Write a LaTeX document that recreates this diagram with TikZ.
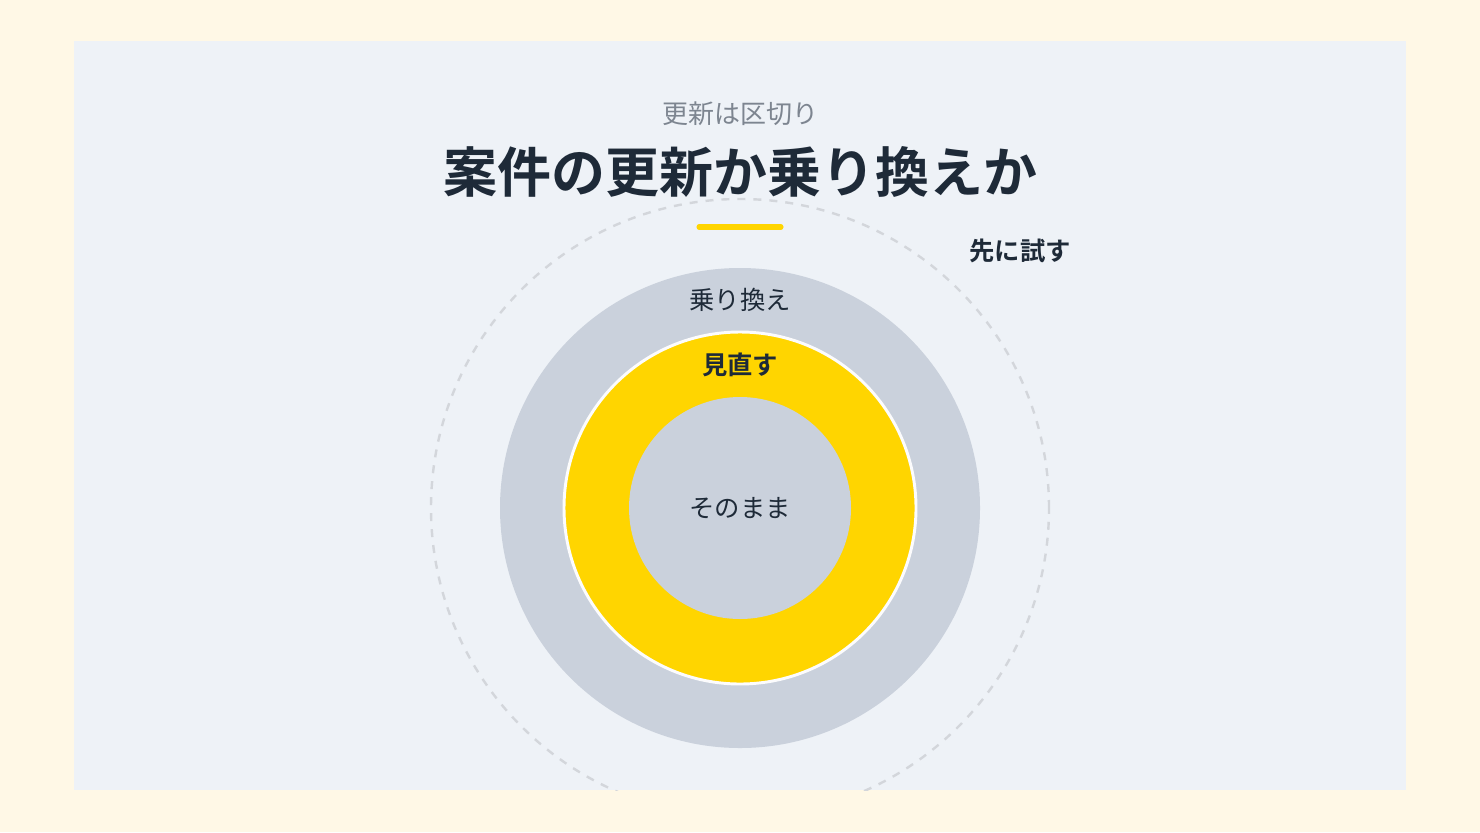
\documentclass[tikz,border=0pt]{standalone}
\usepackage{fontspec}
\newfontfamily\cjk{Noto Sans CJK JP}
\newfontfamily\cjkb{Noto Sans CJK JP Bold}
\definecolor{cream}{HTML}{FFF8E6}
\definecolor{panel}{HTML}{EEF2F7}
\definecolor{ringgray}{HTML}{CAD1DC}
\definecolor{ringyellow}{HTML}{FFD500}
\definecolor{ink}{HTML}{1E2A38}
\definecolor{subgray}{HTML}{7D8590}
\definecolor{dashgray}{HTML}{D3D6DB}
\tikzset{
  lbl/.style={inner sep=0pt, text=ink, font=\cjk\fontsize{19}{21}\selectfont},
  lblb/.style={inner sep=0pt, text=ink, font=\cjkb\fontsize{19}{21}\selectfont},
}
\begin{document}
\begin{tikzpicture}[x=0.75pt,y=-0.75pt]
\useasboundingbox (0,0) rectangle (1480,832);
\fill[cream] (0,0) rectangle (1480,832);
\fill[panel] (74,41) rectangle (1406,790);
\coordinate (c) at (740,508);
\begin{scope}
\clip (74,41) rectangle (1406,790);
\draw[dashgray, line width=1.8pt, dash pattern=on 6pt off 6pt] (c) circle[radius=231.75pt];
\end{scope}
\fill[ringgray] (c) circle[radius=180pt];
\fill[ringyellow, draw=white!94!ringgray, line width=2.2pt] (c) circle[radius=132pt];
\fill[ringgray] (c) circle[radius=83.25pt];
\node[inner sep=0pt, text=subgray, font=\cjk\fontsize{19.5}{21}\selectfont] (sub) at (740,114) {更新は区切り};
\node[inner sep=0pt, text=ink, font=\cjkb\fontsize{40.5}{44}\selectfont] (title) at (740,172) {案件の更新か乗り換えか};
\draw[ringyellow, line width=3.8pt, line cap=round] (699,227) -- (781,227);
\node[lblb] (try) at (1020,251) {先に試す};
\node[lbl] (switch) at (740,300) {乗り換え};
\node[lblb] (review) at (740,365) {見直す};
\node[lbl] (keep) at (740,508) {そのまま};
\end{tikzpicture}
\end{document}
